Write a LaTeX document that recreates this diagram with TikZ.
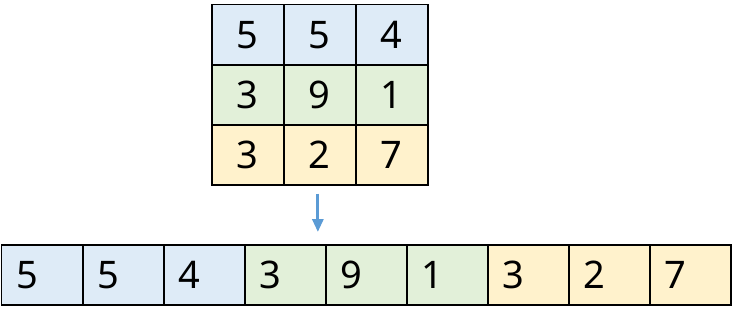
\documentclass[tikz,border=0pt]{standalone}
\usepackage{fontspec}
\setmainfont{Noto Sans}
\usetikzlibrary{matrix,positioning,arrows.meta}
\definecolor{cellblue}{HTML}{DEEBF7}
\definecolor{cellgreen}{HTML}{E2F0D9}
\definecolor{cellyellow}{HTML}{FFF2CC}
\definecolor{arrowblue}{HTML}{5B9BD5}
\tikzset{
  cell/.style={draw=black, line width=1.3pt, outer sep=0pt, font=\fontsize{38}{40}\selectfont},
  flowarrow/.style={draw=arrowblue, line width=3pt, -{Triangle[length=13pt,width=11pt]}}
}

\begin{document}
\begin{tikzpicture}[x=1pt,y=-1pt]
    \useasboundingbox (0,0) rectangle (735,321);
    \matrix (grid) [matrix of nodes, anchor=north west, inner sep=0pt, row sep=-1.3pt, column sep=-1.3pt, nodes={cell, minimum width=72pt, minimum height=60pt, anchor=center},
      row 1/.style={nodes={fill=cellblue}}, row 2/.style={nodes={fill=cellgreen}}, row 3/.style={nodes={fill=cellyellow}}] at (211,4) {
      5 & 5 & 4 \\
      3 & 9 & 1 \\
      3 & 2 & 7 \\
    };
    \matrix (flat) [matrix of nodes, anchor=north west, inner sep=0pt, row sep=-1.3pt, column sep=-1.3pt, nodes={cell, minimum width=81pt, minimum height=60pt, text width=51pt, inner sep=15pt, align=left, anchor=center},
      column 1/.style={nodes={fill=cellblue}}, column 2/.style={nodes={fill=cellblue}}, column 3/.style={nodes={fill=cellblue}},
      column 4/.style={nodes={fill=cellgreen}}, column 5/.style={nodes={fill=cellgreen}}, column 6/.style={nodes={fill=cellgreen}},
      column 7/.style={nodes={fill=cellyellow}}, column 8/.style={nodes={fill=cellyellow}}, column 9/.style={nodes={fill=cellyellow}}] at (1,244) {
      5 & 5 & 4 & 3 & 9 & 1 & 3 & 2 & 7 \\
    };
    \draw[flowarrow] ([xshift=-2pt,yshift=-8pt]grid.south) -- ([xshift=-2pt,yshift=12pt]grid.south |- flat.north);
  \end{tikzpicture}
\end{document}
